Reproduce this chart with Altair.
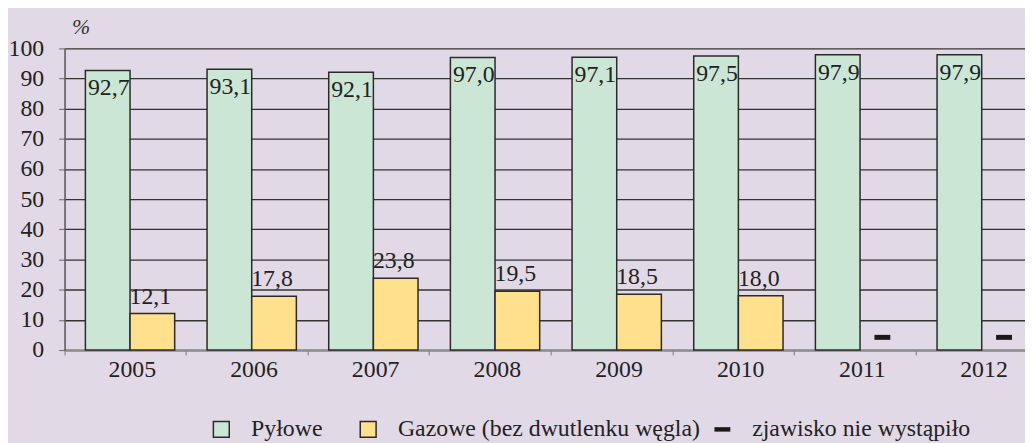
import altair as alt
import pandas as pd

# ---- data ----
years = ["2005", "2006", "2007", "2008", "2009", "2010", "2011", "2012"]
pylowe = [92.7, 93.1, 92.1, 97.0, 97.1, 97.5, 97.9, 97.9]
gazowe = [12.1, 17.8, 23.8, 19.5, 18.5, 18.0, None, None]
series = ["Pyłowe", "Gazowe (bez dwutlenku węgla)"]
note_label = "zjawisko nie wystąpiło"
note_level = 4.2          # level at which the "no occurrence" dash is drawn
y_ticks = list(range(0, 101, 10))

FONT = "Liberation Serif"
BG = "#e2d9e6"
GREEN = "#cce6d6"
YELLOW = "#ffe08c"
INK = "#222222"


def fmt(v):
    return f"{v:.1f}".replace(".", ",")


rows = []
for yr, p, g in zip(years, pylowe, gazowe):
    rows.append({"year": yr, "series": series[0], "value": p, "label": fmt(p)})
    if g is not None:
        rows.append({"year": yr, "series": series[1], "value": g, "label": fmt(g)})
bars_df = pd.DataFrame(rows)

dash_df = pd.DataFrame({
    "year": [yr for yr, g in zip(years, gazowe) if g is None],
    "series": series[1],
    "value": note_level,
    "note": note_label,
})

x_enc = alt.X(
    "year:N",
    sort=years,
    scale=alt.Scale(domain=years, range=[0, 981], paddingInner=0, paddingOuter=0),
    axis=alt.Axis(
        title=None, labelAngle=0, labelFont=FONT, labelFontSize=24, labelColor=INK,
        labelPadding=3, labelOffset=7, bandPosition=0, tickSize=5, tickColor="#8a8a8a",
        tickWidth=1.2, domainColor="#8c8c8c", domainWidth=2, grid=False,
    ),
)
xoff_enc = alt.XOffset(
    "series:N",
    scale=alt.Scale(domain=series, range=[21, 111], paddingInner=0, paddingOuter=0),
)
y_enc = alt.Y(
    "value:Q",
    scale=alt.Scale(domain=[0, 100], nice=False),
    axis=alt.Axis(
        values=y_ticks, format="d", title="%", titleAngle=0, titleFont=FONT,
        titleFontStyle="italic", titleFontWeight="normal", titleFontSize=22,
        titleColor="#333", titleX=7, titleY=-15, titleAlign="left",
        titleBaseline="alphabetic", labelFont=FONT, labelFontSize=24, labelColor=INK,
        labelPadding=15, tickSize=6, tickColor="#7a7a7a", tickWidth=1.2,
        domainColor="#555555", domainWidth=1.5, grid=True, gridColor="#333333",
        gridWidth=1.3,
    ),
)

bars = alt.Chart(bars_df).mark_bar(stroke="#2a2a2a", strokeWidth=1.5).encode(
    x=x_enc,
    xOffset=xoff_enc,
    y=y_enc,
    fill=alt.Fill(
        "series:N",
        scale=alt.Scale(domain=series, range=[GREEN, YELLOW]),
        legend=alt.Legend(
            title=None, orient="none", direction="horizontal", legendX=146,
            legendY=372, symbolType="square", symbolSize=256,
            symbolStrokeColor="#2a2a2a", symbolStrokeWidth=1.5, symbolOpacity=1,
            labelFont=FONT, labelFontSize=24, labelColor=INK, labelOffset=18,
            columnPadding=34, labelLimit=500, padding=0,
        ),
    ),
)

green_labels = alt.Chart(bars_df).transform_filter(
    alt.datum.series == series[0]
).mark_text(
    font=FONT, fontSize=24, color=INK, align="center", baseline="alphabetic", dy=25, dx=1
).encode(x=x_enc, xOffset=xoff_enc, y=y_enc, text="label:N")

yellow_labels = alt.Chart(bars_df).transform_filter(
    alt.datum.series == series[1]
).mark_text(
    font=FONT, fontSize=24, color=INK, align="center", baseline="alphabetic", dy=-10, dx=-2
).encode(x=x_enc, xOffset=xoff_enc, y=y_enc, text="label:N")

dashes = alt.Chart(dash_df).mark_tick(
    thickness=5, size=16, orient="horizontal", opacity=1
).encode(
    x=x_enc,
    xOffset=xoff_enc,
    y=y_enc,
    color=alt.Color(
        "note:N",
        scale=alt.Scale(domain=[note_label], range=["#1a1a1a"]),
        legend=alt.Legend(
            title=None, orient="none", direction="horizontal", legendX=651,
            legendY=372, symbolType="M-1,-0.28L1,-0.28L1,0.28L-1,0.28Z",
            symbolSize=256, symbolStrokeWidth=0, symbolOpacity=1,
            labelFont=FONT, labelFontSize=24, labelColor=INK, labelOffset=18,
            labelLimit=500, padding=0,
        ),
    ),
)

chart = alt.layer(bars, green_labels, yellow_labels, dashes).properties(
    width=968,
    height=304,
    autosize=alt.AutoSizeParams(type="none"),
    padding={"left": 57, "top": 39, "right": 0, "bottom": 92},
    background=BG,
).configure_view(stroke=None)

chart.save("out.html", embed_options={"renderer": "svg", "actions": False})
